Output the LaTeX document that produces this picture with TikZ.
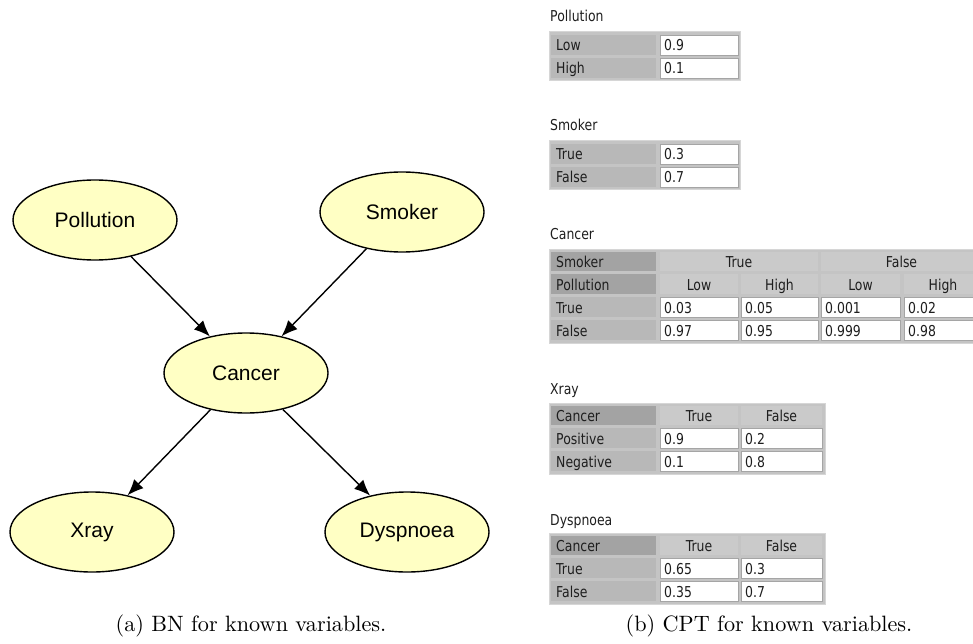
\documentclass[tikz,border=0pt]{standalone}
\usepackage{fontspec}
\usetikzlibrary{shapes.geometric,arrows.meta}
\newfontfamily\nodefont{Liberation Sans}
\newfontfamily\tabfont[FakeStretch=0.83]{DejaVu Sans}
\definecolor{nodefill}{RGB}{255,255,196}
\definecolor{tabbg}{RGB}{196,196,196}
\definecolor{tabedge}{RGB}{214,214,214}
\definecolor{labgray}{RGB}{184,184,184}
\definecolor{headgray}{RGB}{163,163,163}
\definecolor{colgray}{RGB}{202,202,202}
\definecolor{valedge}{RGB}{165,165,165}
\definecolor{tabtext}{RGB}{30,30,30}
\tikzset{
  bn/.style={ellipse, draw=black, line width=1.4pt, fill=nodefill,
    minimum width=164pt, minimum height=80pt, inner sep=0pt,
    font=\nodefont\fontsize{21}{25}\selectfont},
  edge/.style={-{Latex[length=16pt,width=13pt]}, line width=1.4pt},
  caption/.style={scale=2.22, inner sep=0pt},
  tabtitle/.style={font=\tabfont\fontsize{15}{17}\selectfont, text=tabtext, inner sep=0pt, anchor=base west},
  celltext/.style={font=\tabfont\fontsize{15}{17}\selectfont, text=tabtext, inner sep=0pt},
  tabframe/.style={fill=tabbg, draw=tabedge, line width=1pt},
  labcell/.style={fill=labgray},
  headcell/.style={fill=headgray},
  colcell/.style={fill=colgray},
  valcell/.style={fill=white, draw=valedge, line width=0.6pt},
}
% left-aligned and centred table cells: name, x1, y1, x2, y2, style, text
\newcommand\cellL[7]{\path[#6] (#2,#3) rectangle (#4,#5);
  \node[celltext,anchor=base west] (#1) at ({#2+5},{#5-4}) {#7};}
\newcommand\cellV[7]{\path[#6] (#2,#3) rectangle (#4,#5);
  \node[celltext,anchor=base west] (#1) at ({#2+4},{#5-4}) {#7};}
\newcommand\cellC[7]{\path[#6] (#2,#3) rectangle (#4,#5);
  \node[celltext,anchor=base] (#1) at ({(#2+#4)/2},{#5-4}) {#7};}
\begin{document}
\begin{tikzpicture}[x=1pt,y=-1pt]
\useasboundingbox (0,0) rectangle (973,644);

% ---------- Bayesian network ----------
\node[bn] (pol) at (95,220)  {Pollution};
\node[bn] (smk) at (402,212) {Smoker};
\node[bn] (can) at (246,373) {Cancer};
\node[bn] (xry) at (92,532)  {Xray};
\node[bn] (dys) at (407,532) {Dyspnoea};
\draw[edge] (pol) -- (can);
\draw[edge] (smk) -- (can);
\draw[edge] (can) -- (xry);
\draw[edge] (can) -- (dys);
\node[caption, anchor=base] (capa) at (251,631) {(a) BN for known variables.};

% ---------- CPT tables ----------
\begin{scope}
\clip (0,0) rectangle (973,644);

% Pollution
\node[tabtitle] (tpol) at (550,22) {Pollution};
\path[tabframe] (549,32) rectangle (740,81);
\cellL{pa}{551}{35}{656}{55}{labcell}{Low}
\cellV{pb}{660}{35}{738}{55}{valcell}{0.9}
\cellL{pc}{551}{58}{656}{78}{labcell}{High}
\cellV{pd}{660}{58}{738}{78}{valcell}{0.1}

% Smoker
\node[tabtitle] (tsmk) at (550,131) {Smoker};
\path[tabframe] (549,141) rectangle (740,190);
\cellL{sa}{551}{144}{656}{164}{labcell}{True}
\cellV{sb}{660}{144}{738}{164}{valcell}{0.3}
\cellL{sc}{551}{167}{656}{187}{labcell}{False}
\cellV{sd}{660}{167}{738}{187}{valcell}{0.7}

% Cancer
\node[tabtitle] (tcan) at (550,239) {Cancer};
\path[tabframe] (549,249) rectangle (990,343);
\cellL{ca1}{551}{252}{656}{271}{headcell}{Smoker}
\cellC{ca2}{660}{252}{818}{271}{colcell}{True}
\cellC{ca3}{821}{252}{982}{271}{colcell}{False}
\cellL{cb1}{551}{274}{656}{294}{headcell}{Pollution}
\cellC{cb2}{660}{274}{738}{294}{colcell}{Low}
\cellC{cb3}{741}{274}{818}{294}{colcell}{High}
\cellC{cb4}{821}{274}{900}{294}{colcell}{Low}
\cellC{cb5}{904}{274}{982}{294}{colcell}{High}
\cellL{cc1}{551}{297}{656}{317}{labcell}{True}
\cellV{cc2}{660}{297}{738}{317}{valcell}{0.03}
\cellV{cc3}{741}{297}{818}{317}{valcell}{0.05}
\cellV{cc4}{821}{297}{900}{317}{valcell}{0.001}
\cellV{cc5}{904}{297}{982}{317}{valcell}{0.02}
\cellL{cd1}{551}{320}{656}{340}{labcell}{False}
\cellV{cd2}{660}{320}{738}{340}{valcell}{0.97}
\cellV{cd3}{741}{320}{818}{340}{valcell}{0.95}
\cellV{cd4}{821}{320}{900}{340}{valcell}{0.999}
\cellV{cd5}{904}{320}{982}{340}{valcell}{0.98}

% Xray
\node[tabtitle] (txry) at (550,394) {Xray};
\path[tabframe] (549,403) rectangle (825,474);
\cellL{xa1}{551}{406}{656}{425}{headcell}{Cancer}
\cellC{xa2}{660}{406}{738}{425}{colcell}{True}
\cellC{xa3}{741}{406}{822}{425}{colcell}{False}
\cellL{xb1}{551}{428}{656}{448}{labcell}{Positive}
\cellV{xb2}{660}{428}{738}{448}{valcell}{0.9}
\cellV{xb3}{741}{428}{822}{448}{valcell}{0.2}
\cellL{xc1}{551}{451}{656}{471}{labcell}{Negative}
\cellV{xc2}{660}{451}{738}{471}{valcell}{0.1}
\cellV{xc3}{741}{451}{822}{471}{valcell}{0.8}

% Dyspnoea
\node[tabtitle] (tdys) at (550,525) {Dyspnoea};
\path[tabframe] (549,533) rectangle (825,604);
\cellL{da1}{551}{536}{656}{555}{headcell}{Cancer}
\cellC{da2}{660}{536}{738}{555}{colcell}{True}
\cellC{da3}{741}{536}{822}{555}{colcell}{False}
\cellL{db1}{551}{558}{656}{578}{labcell}{True}
\cellV{db2}{660}{558}{738}{578}{valcell}{0.65}
\cellV{db3}{741}{558}{822}{578}{valcell}{0.3}
\cellL{dc1}{551}{581}{656}{601}{labcell}{False}
\cellV{dc2}{660}{581}{738}{601}{valcell}{0.35}
\cellV{dc3}{741}{581}{822}{601}{valcell}{0.7}
\end{scope}

\node[caption, anchor=base] (capb) at (769,631) {(b) CPT for known variables.};
\end{tikzpicture}
\end{document}
